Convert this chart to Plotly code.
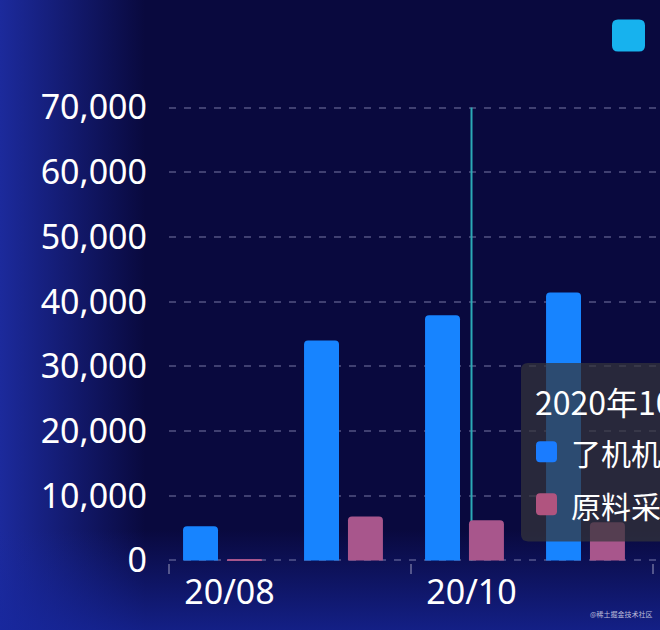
import base64
import plotly.graph_objects as go

# data
months = ["20/08", "20/09", "20/10", "20/11"]
machine_vals = [5300, 34000, 37900, 41400]
material_vals = [200, 6800, 6200, 5900]
series_names = ["了机机台产量", "原料采购量"]
tooltip_month = "20/10"
tooltip_title = "2020年10月"
y_ticks = [0, 10000, 20000, 30000, 40000, 50000, 60000, 70000]

# plot area in pixels (0 line at 560, top line at 108)
L, T, W, H = 169, 108, 491, 452
y_pad = 400  # small range padding so edge gridlines are kept
pad_px = y_pad * H / y_ticks[-1]


def px(x):
    return (x - L) / W


def py(y):
    return (T + H + pad_px - y) / (H + 2 * pad_px)


def rrect(x0, y0, x1, y1, r):
    # rounded rectangle path in paper coords from pixel box
    pts = [
        ("M", x0 + r, y0), ("L", x1 - r, y0), ("Q", x1, y0, x1, y0 + r),
        ("L", x1, y1 - r), ("Q", x1, y1, x1 - r, y1), ("L", x0 + r, y1),
        ("Q", x0, y1, x0, y1 - r), ("L", x0, y0 + r), ("Q", x0, y0, x0 + r, y0),
    ]
    out = []
    for p in pts:
        if p[0] == "Q":
            out.append(f"Q{px(p[1]):.5f},{py(p[2]):.5f} {px(p[3]):.5f},{py(p[4]):.5f}")
        else:
            out.append(f"{p[0]}{px(p[1]):.5f},{py(p[2]):.5f}")
    return " ".join(out) + " Z"


bg_svg = """<svg xmlns='http://www.w3.org/2000/svg' width='660' height='630'>
<defs>
<linearGradient id='h' x1='0' y1='0' x2='1' y2='0'>
<stop offset='0' stop-color='#1c2a9c' stop-opacity='1'/>
<stop offset='0.22' stop-color='#1c2a9c' stop-opacity='0'/>
</linearGradient>
<linearGradient id='v' x1='0' y1='0' x2='0' y2='1'>
<stop offset='0.84' stop-color='#17279e' stop-opacity='0'/>
<stop offset='1' stop-color='#17279e' stop-opacity='0.75'/>
</linearGradient>
</defs>
<rect width='660' height='630' fill='#09093e'/>
<rect width='660' height='630' fill='url(#h)'/>
<rect width='660' height='630' fill='url(#v)'/>
</svg>"""
bg_src = "data:image/svg+xml;base64," + base64.b64encode(bg_svg.encode()).decode()

fig = go.Figure()
fig.add_trace(go.Bar(
    x=months, y=machine_vals, name=series_names[0],
    offset=-0.384, width=0.289,
    marker=dict(color="#1784ff", cornerradius=4, line=dict(width=0)),
))
fig.add_trace(go.Bar(
    x=months, y=material_vals, name=series_names[1],
    offset=-0.021, width=0.289,
    marker=dict(color="#a8568c", cornerradius=4, line=dict(width=0)),
))

shapes = [
    # axis pointer
    dict(type="line", xref="x", yref="y", x0=tooltip_month, x1=tooltip_month,
         y0=0, y1=y_ticks[-1], line=dict(color="#2ba9b6", width=2), layer="between"),
    # tooltip box
    dict(type="path", xref="paper", yref="paper", path=rrect(521, 363, 700, 541, 7),
         fillcolor="rgba(52,52,58,0.72)", line=dict(width=0), layer="above"),
    dict(type="path", xref="paper", yref="paper", path=rrect(536, 441, 557, 462, 4),
         fillcolor="#1a7cff", line=dict(width=0), layer="above"),
    dict(type="path", xref="paper", yref="paper", path=rrect(536, 493, 557, 515, 4),
         fillcolor="#b0547f", line=dict(width=0), layer="above"),
    # legend icon
    dict(type="path", xref="paper", yref="paper", path=rrect(612, 20, 645, 52, 6),
         fillcolor="#17b2ee", line=dict(width=0), layer="above"),
]

annotations = [
    dict(xref="paper", yref="paper", x=px(533), y=py(401), text=tooltip_title,
         xanchor="left", yanchor="middle", showarrow=False,
         font=dict(family="Noto Sans CJK SC", size=32, color="white")),
    dict(xref="paper", yref="paper", x=px(569), y=py(452),
         text=f"{series_names[0]}  {machine_vals[2]:,}",
         xanchor="left", yanchor="middle", showarrow=False,
         font=dict(family="Noto Sans CJK SC", size=30, color="white")),
    dict(xref="paper", yref="paper", x=px(569), y=py(505),
         text=f"{series_names[1]}  {material_vals[2]:,}",
         xanchor="left", yanchor="middle", showarrow=False,
         font=dict(family="Noto Sans CJK SC", size=30, color="white")),
    dict(xref="paper", yref="paper", x=px(656), y=py(36), text=series_names[0],
         xanchor="left", yanchor="middle", showarrow=False,
         font=dict(family="Noto Sans CJK SC", size=30, color="white")),
    dict(xref="paper", yref="paper", x=px(655), y=py(613), text="@稀土掘金技术社区",
         xanchor="right", yanchor="middle", showarrow=False,
         font=dict(family="Noto Sans CJK SC", size=7, color="rgba(220,220,235,0.85)")),
]

fig.update_layout(
    width=660, height=630,
    margin=dict(l=L, r=660 - L - W, t=T - pad_px, b=630 - T - H - pad_px, pad=0),
    paper_bgcolor="#09093e", plot_bgcolor="rgba(0,0,0,0)",
    showlegend=False, barmode="group",
    images=[dict(source=bg_src, xref="paper", yref="paper",
                 x=px(0), y=py(0), sizex=660 / W, sizey=630 / (H + 2 * pad_px),
                 xanchor="left", yanchor="top", sizing="stretch", layer="below")],
    shapes=shapes, annotations=annotations,
    font=dict(family="Noto Sans", color="white"),
)
fig.update_xaxes(
    type="category", range=[-0.5, -0.5 + W / 121.0],
    tickmode="linear", tick0=0, dtick=2, tickson="boundaries",
    ticks="outside", ticklen=10, tickwidth=1.5, tickcolor="rgba(170,170,200,0.45)",
    showgrid=False, showline=False, zeroline=False, ticklabelstandoff=6,
    tickfont=dict(family="Noto Sans", size=34, color="white"),
)
fig.update_yaxes(
    range=[-y_pad, y_ticks[-1] + y_pad], tickvals=y_ticks, tickformat=",d",
    showgrid=True, gridcolor="rgba(170,170,210,0.35)", gridwidth=1.5, griddash="7px,8px",
    zeroline=False, showline=False, ticks="", ticklabelstandoff=21,
    tickfont=dict(family="Noto Sans", size=34, color="white"),
)

fig.write_html("out.html", config={"displayModeBar": False},
               post_script="document.body.style.margin='0';")
